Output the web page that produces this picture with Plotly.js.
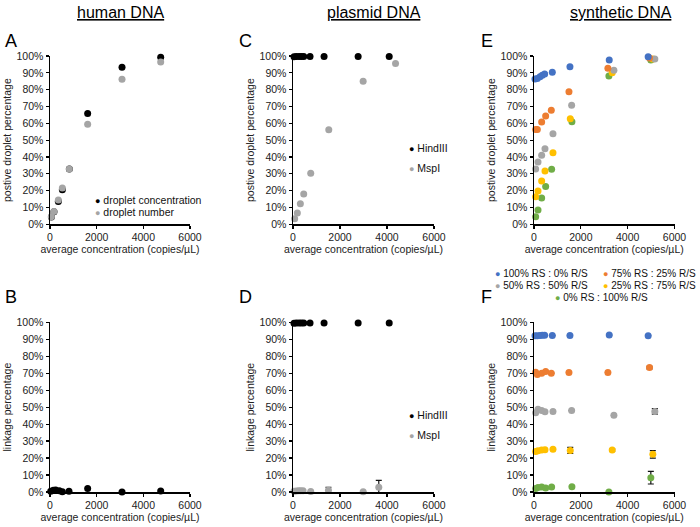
<!DOCTYPE html>
<html>
<head>
<meta charset="utf-8">
<script src="https://cdn.plot.ly/plotly-3.0.1.min.js"></script>
<style>html,body{margin:0;padding:0;background:#fff;}#chart{width:700px;height:527px;}</style>
</head>
<body>
<div id="chart"></div>
<script>
// ---------- DATA ----------
// Panel A / B: human DNA
const humanX        = [60, 170, 357, 529, 829, 1614, 3086, 4744];
const humanConcPos  = [0.043, 0.075, 0.136, 0.205, 0.329, 0.658, 0.933, 0.992];
const humanNumPos   = [0.045, 0.076, 0.145, 0.215, 0.328, 0.594, 0.862, 0.964];
const humanLinkX    = [30, 143, 243, 400, 529, 814, 1614, 3086, 4744];
const humanLink     = [0.004, 0.010, 0.012, 0.008, 0.002, 0.004, 0.020, 0.000, 0.006];

// Panel C / D: plasmid DNA
const hindX         = [43, 140, 256, 355, 456, 725, 1322, 2772, 4094];
const hindPos       = [0.996, 0.997, 0.997, 0.997, 0.997, 0.997, 0.997, 0.997, 0.997];
const hindLink      = [0.995, 0.996, 0.996, 0.996, 0.996, 0.996, 0.996, 0.996, 0.996];
const mspX          = [71, 185, 313, 456, 754, 1522, 2985, 4363];
const mspPos        = [0.033, 0.067, 0.122, 0.180, 0.303, 0.562, 0.850, 0.956];
const mspLinkX      = [43, 142, 242, 327, 427, 754, 1508, 2986, 3650];
const mspLink       = [0.005, 0.006, 0.008, 0.007, 0.007, 0.003, 0.010, 0.001, 0.028];
const mspLinkErr    = [0, 0, 0, 0, 0, 0, 0.018, 0, 0.040];

// Panel E / F: synthetic DNA
const seriesNames   = ["100% RS : 0% R/S", "75% RS : 25% R/S", "50% RS : 50% R/S", "25% RS : 75% R/S", "0% RS : 100% R/S"];
const rs100X        = [43, 142, 256, 355, 455, 782, 1535, 3213, 4875];
const rs100Pos      = [0.863, 0.867, 0.877, 0.885, 0.893, 0.903, 0.936, 0.976, 0.996];
const rs100Link     = [0.921, 0.921, 0.922, 0.923, 0.924, 0.922, 0.922, 0.925, 0.921];
const rs100Err      = [0, 0, 0, 0, 0, 0, 0, 0, 0];
const rs75X         = [71, 142, 327, 498, 739, 1493, 3156, 4933];
const rs75Pos       = [0.564, 0.564, 0.608, 0.643, 0.677, 0.788, 0.927, 0.988];
const rs75Link      = [0.705, 0.692, 0.700, 0.710, 0.700, 0.704, 0.704, 0.733];
const rs75Err       = [0, 0, 0, 0, 0, 0, 0, 0.008];
const rs50X         = [71, 171, 327, 469, 810, 1607, 3412, 5160];
const rs50Pos       = [0.329, 0.370, 0.410, 0.449, 0.538, 0.707, 0.915, 0.982];
const rs50Link      = [0.467, 0.487, 0.480, 0.473, 0.475, 0.480, 0.452, 0.475];
const rs50Err       = [0, 0, 0, 0, 0, 0, 0, 0.016];
const rs25X         = [71, 171, 327, 469, 810, 1549, 3340, 5074];
const rs25Pos       = [0.164, 0.198, 0.257, 0.317, 0.425, 0.627, 0.901, 0.982];
const rs25Link      = [0.238, 0.243, 0.247, 0.249, 0.252, 0.245, 0.247, 0.222];
const rs25Err       = [0, 0, 0, 0, 0, 0.018, 0.006, 0.022];
const rs0X          = [71, 171, 327, 498, 753, 1620, 3198, 4989];
const rs0Pos        = [0.045, 0.085, 0.156, 0.224, 0.327, 0.610, 0.881, 0.976];
const rs0Link       = [0.020, 0.027, 0.030, 0.024, 0.029, 0.031, 0.000, 0.084];
const rs0Err        = [0, 0, 0, 0, 0, 0, 0, 0.037];

// ---------- STYLE ----------
const FONT = "Arial, 'Liberation Sans', sans-serif";
const BLACK = "#000000", GREY = "#A5A5A5";
const synthColors = ["#4472C4", "#ED7D31", "#A5A5A5", "#FFC000", "#70AD47"];
const W = 700, H = 527;
const px = v => v / W;
const py = v => 1 - v / H;

function pts(x, y, color, xa, ya, err) {
  const t = {
    type: "scatter", mode: "markers", x: x, y: y, xaxis: xa, yaxis: ya,
    marker: {color: color, size: 7}, cliponaxis: false, showlegend: false, hoverinfo: "skip"
  };
  if (err) {
    t.error_y = {type: "data", array: err, visible: true, color: "#111", thickness: 1.2, width: 3};
  }
  return t;
}

const data = [
  pts(humanX, humanConcPos, BLACK, "x", "y"),
  pts(humanX, humanNumPos, GREY, "x", "y"),
  pts(humanLinkX, humanLink, BLACK, "x2", "y2"),
  pts(mspX, mspPos, GREY, "x3", "y3"),
  pts(hindX, hindPos, BLACK, "x3", "y3"),
  pts(hindX, hindLink, BLACK, "x4", "y4"),
  pts(mspLinkX, mspLink, GREY, "x4", "y4", mspLinkErr),
  pts(rs0X, rs0Pos, synthColors[4], "x5", "y5"),
  pts(rs25X, rs25Pos, synthColors[3], "x5", "y5"),
  pts(rs50X, rs50Pos, synthColors[2], "x5", "y5"),
  pts(rs75X, rs75Pos, synthColors[1], "x5", "y5"),
  pts(rs100X, rs100Pos, synthColors[0], "x5", "y5"),
  pts(rs100X, rs100Link, synthColors[0], "x6", "y6", rs100Err),
  pts(rs75X, rs75Link, synthColors[1], "x6", "y6", rs75Err),
  pts(rs50X, rs50Link, synthColors[2], "x6", "y6", rs50Err),
  pts(rs25X, rs25Link, synthColors[3], "x6", "y6", rs25Err),
  pts(rs0X, rs0Link, synthColors[4], "x6", "y6", rs0Err)
];

const xTitle = "average concentration (copies/µL)";
function xax(l, r, anchor) {
  return {
    domain: [px(l), px(r)], anchor: anchor, range: [0, 6000], tickvals: [0, 2000, 4000, 6000],
    ticks: "outside", ticklen: 3, tickwidth: 1.2, tickcolor: "#000",
    showline: true, linecolor: "#000", linewidth: 1.5, showgrid: false, zeroline: false,
    tickfont: {family: FONT, size: 10.5, color: "#222"}, automargin: false,
    title: {text: xTitle, font: {family: FONT, size: 10.5, color: "#222"}, standoff: 2}
  };
}
function yax(top, bottom, anchor, title) {
  return {
    domain: [py(bottom), py(top)], anchor: anchor, range: [0, 1], dtick: 0.1, tick0: 0, tickformat: ".0%",
    ticks: "outside", ticklen: 3, tickwidth: 1.2, tickcolor: "#000",
    showline: true, linecolor: "#000", linewidth: 1.5, showgrid: false, zeroline: false,
    tickfont: {family: FONT, size: 10.5, color: "#222"}, automargin: false,
    title: {text: title, font: {family: FONT, size: 10.5, color: "#222"}, standoff: 3}
  };
}

const TOP0 = 56, TOP1 = 224.3, BOT0 = 322.3, BOT1 = 492;
const posT = "postive droplet percentage", linkT = "linkage percentage";

function ann(text, x, y, size, xanchor, color) {
  return {text: text, x: px(x), y: py(y), xref: "paper", yref: "paper", showarrow: false,
    xanchor: xanchor || "left", yanchor: "middle", font: {family: FONT, size: size, color: color || "#000"}};
}
function leg(color, label, x, y, size) {
  return ann('<span style="color:' + color + ';font-size:9px">●</span> ' + label, x, y, size || 10.5, "left", "#111");
}

const annotations = [
  ann('<span style="text-decoration:underline">human DNA</span>', 120, 13, 16, "center"),
  ann('<span style="text-decoration:underline">plasmid DNA</span>', 374, 13, 16, "center"),
  ann('<span style="text-decoration:underline">synthetic DNA</span>', 621, 13, 16, "center"),
  ann("A", 3, 41, 18), ann("C", 237, 41, 18), ann("E", 479, 41, 18),
  ann("B", 3, 297, 18), ann("D", 237, 297, 18), ann("F", 479, 297, 18),
  leg(BLACK, "droplet concentration", 93, 200),
  leg(GREY, "droplet number", 93, 212),
  leg(BLACK, "HindIII", 407, 148),
  leg(GREY, "MspI", 407, 168),
  leg(BLACK, "HindIII", 407, 415),
  leg(GREY, "MspI", 407, 435),
  leg(synthColors[0], seriesNames[0], 493, 273, 10),
  leg(synthColors[1], seriesNames[1], 601, 273, 10),
  leg(synthColors[2], seriesNames[2], 493, 285, 10),
  leg(synthColors[3], seriesNames[3], 601, 285, 10),
  leg(synthColors[4], seriesNames[4], 553, 297, 10)
];

const layout = {
  width: W, height: H, margin: {l: 0, r: 0, t: 0, b: 0},
  paper_bgcolor: "#fff", plot_bgcolor: "rgba(0,0,0,0)", showlegend: false,
  font: {family: FONT},
  xaxis:  xax(50, 190, "y"),
  xaxis2: xax(50, 190, "y2"),
  xaxis3: xax(293, 434, "y3"),
  xaxis4: xax(293, 434, "y4"),
  xaxis5: xax(534, 674.5, "y5"),
  xaxis6: xax(534, 674.5, "y6"),
  yaxis:  yax(TOP0, TOP1, "x", posT),
  yaxis2: yax(BOT0, BOT1, "x2", linkT),
  yaxis3: yax(TOP0, TOP1, "x3", posT),
  yaxis4: yax(BOT0, BOT1, "x4", linkT),
  yaxis5: yax(TOP0, TOP1, "x5", posT),
  yaxis6: yax(BOT0, BOT1, "x6", linkT),
  annotations: annotations
};

Plotly.newPlot("chart", data, layout, {staticPlot: true, displayModeBar: false});
</script>
</body>
</html>
